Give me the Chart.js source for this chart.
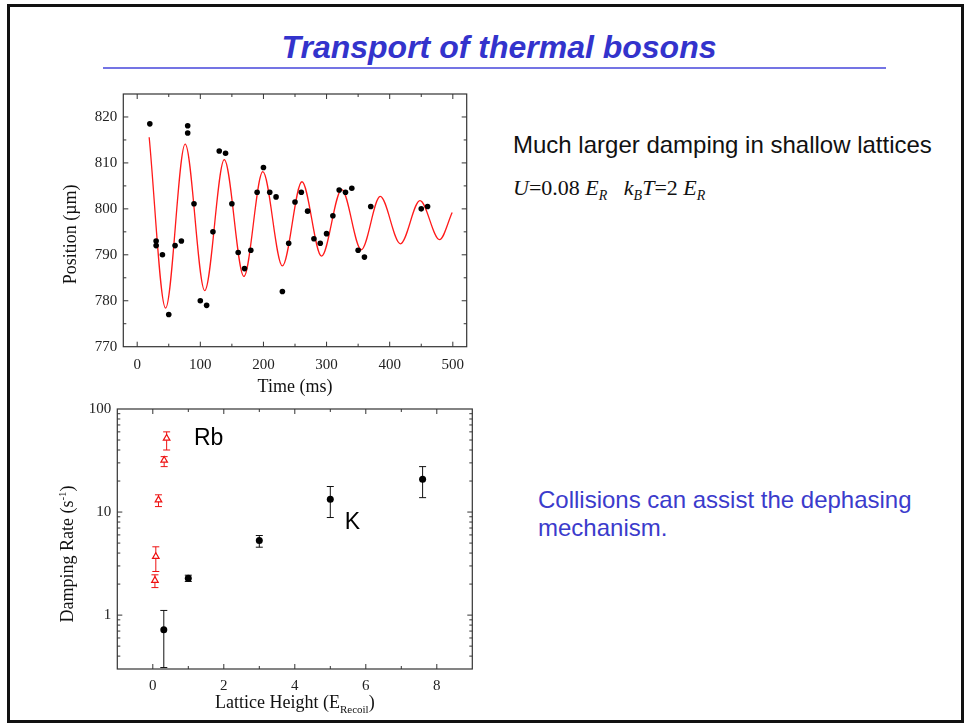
<!DOCTYPE html>
<html>
<head>
<meta charset="utf-8">
<script src="https://cdn.jsdelivr.net/npm/chart.js@4.4.1/dist/chart.umd.min.js"></script>
<style>
  html, body { margin: 0; padding: 0; background: #fff; }
  body { width: 967px; height: 724px; position: relative; overflow: hidden; }
  .frame { position: absolute; left: 7px; top: 4px; width: 957px; height: 719px; border: 3px solid #111; box-sizing: border-box; }
  .title { position: absolute; left: 99px; top: 29px; width: 800px; text-align: center; line-height: 1;
           font: italic bold 32px "Liberation Sans", Arial, sans-serif; color: #3333cc; }
  .rule { position: absolute; left: 103px; top: 67px; width: 783px; height: 2px; background: #7474e4; }
  .note { position: absolute; left: 513px; top: 131px; line-height: 1; white-space: nowrap;
          font: 24px "Liberation Sans", Arial, sans-serif; color: #111; }
  .params { position: absolute; left: 513px; top: 175px; line-height: 1; white-space: nowrap;
            font: 22px "Liberation Serif", "Times New Roman", serif; color: #111; }
  .params sub { font-size: 14px; vertical-align: -5px; line-height: 0; font-style: italic; }
  .remark { position: absolute; left: 538px; top: 486px; width: 400px; line-height: 27px;
            font: 24px "Liberation Sans", Arial, sans-serif; color: #3b3bcc; }
  canvas { position: absolute; }
  #oscillation { left: 50px; top: 85px; }
  #damping { left: 50px; top: 400px; }
</style>
</head>
<body>
<div class="frame"></div>
<div class="title">Transport of thermal bosons</div>
<div class="rule"></div>
<div class="note">Much larger damping in shallow lattices</div>
<div class="params"><i>U</i>=0.08 <i>E<sub>R</sub></i>&nbsp;&nbsp; <i>k<sub>B</sub>T</i>=2 <i>E<sub>R</sub></i></div>
<div class="remark">Collisions can assist the dephasing mechanism.</div>
<canvas id="oscillation" width="430" height="315"></canvas>
<canvas id="damping" width="430" height="318"></canvas>
<script>
// centre-of-mass position of the cloud after the lattice kick
const timeMs = [20, 30, 30, 40, 50, 60, 70, 80, 80, 90, 100, 110, 120, 130, 140, 150, 160, 170, 180, 190,
                200, 210, 220, 230, 240, 250, 260, 270, 280, 290, 300, 310, 320, 330, 340, 350, 360, 370, 450, 460];
const positionUm = [818.5, 793, 792, 790, 777, 792, 793, 818.1, 816.5, 801.1, 780, 779, 795, 812.6, 812.1, 801.1, 790.5, 787, 791, 803.6,
                    809, 803.6, 802.6, 782, 792.5, 801.5, 803.6, 799.5, 793.5, 792.5, 794.6, 798.5, 804.1, 803.6, 804.5, 791, 789.5, 800.5, 800, 800.5];

// damped sine fit, taken at its turning points
const fitTimeMs = [19, 45, 76, 107, 138, 169, 199, 230, 261, 292, 324, 355, 385, 417, 448, 479, 499];
const fitPositionUm = [815.6, 778.4, 814.1, 782.2, 810.7, 785.3, 808.1, 787.6, 805.9, 789.7, 804.2, 791.1, 802.7, 792.4, 801.8, 793.3, 799.2];

const timeTicks = [0, 100, 200, 300, 400, 500];
const positionTicks = [770, 780, 790, 800, 810, 820];

// damping rate against lattice depth, Rb and K
const rbHeight = [0.39, 0.32, 0.16, 0.085, 0.06];
const rbRate = [52, 31.8, 13.1, 3.7, 2.17];
const rbRateHigh = [60, 34.5, 14.7, 4.6, 2.46];
const rbRateLow = [40, 27.6, 11.3, 2.65, 1.85];

const kHeight = [0.31, 1.0, 3.0, 5.0, 7.6];
const kRate = [0.72, 2.28, 5.3, 13.3, 20.8];
const kRateHigh = [1.11, 2.44, 5.92, 17.7, 27.6];
const kRateLow = [0.31, 2.12, 4.56, 8.85, 13.8];

const heightTicks = [0, 2, 4, 6, 8];
const rateTicks = [1, 10, 100];

const speciesNames = ['Rb', 'K'];
const speciesNameX = [1.16, 5.41];
const speciesNameY = [45, 6.9];

const toPoints = (xs, ys) => xs.map((x, i) => ({ x: x, y: ys[i] }));

const SERIF = '"Liberation Serif", "Times New Roman", serif';
const INK = '#222';

Chart.defaults.font.family = SERIF;
Chart.defaults.color = INK;

// text with optional sub/superscript parts, centred on (cx, cy)
function drawRich(ctx, parts, cx, cy, angle, size) {
    ctx.save();
    ctx.translate(cx, cy);
    ctx.rotate(angle);
    ctx.textBaseline = 'alphabetic';
    ctx.textAlign = 'left';
    const fontFor = p => ((p.sub || p.sup) ? Math.round(size * 0.6) : size) + 'px ' + SERIF;
    let total = 0;
    parts.forEach(p => { ctx.font = fontFor(p); total += ctx.measureText(p.text).width; });
    let x = -total / 2;
    parts.forEach(p => {
        ctx.font = fontFor(p);
        const dy = p.sub ? size * 0.28 : p.sup ? -size * 0.4 : 0;
        ctx.fillText(p.text, x, dy);
        x += ctx.measureText(p.text).width;
    });
    ctx.restore();
}

// box around the plot with inward ticks on all four sides
const frameTicks = {
    id: 'frameTicks',
    afterDraw(chart, args, opts) {
        const { ctx, chartArea: a, scales: { x, y } } = chart;
        ctx.save();
        ctx.strokeStyle = opts.color;
        ctx.lineWidth = 1.2;
        ctx.strokeRect(a.left, a.top, a.right - a.left, a.bottom - a.top);
        ctx.lineWidth = 1;
        ctx.beginPath();
        const xMark = (v, len) => {
            const px = x.getPixelForValue(v);
            if (px < a.left + 1 || px > a.right - 1) return;
            ctx.moveTo(px, a.bottom); ctx.lineTo(px, a.bottom - len);
            ctx.moveTo(px, a.top); ctx.lineTo(px, a.top + len);
        };
        const yMark = (v, len) => {
            const py = y.getPixelForValue(v);
            if (py < a.top + 1 || py > a.bottom - 1) return;
            ctx.moveTo(a.left, py); ctx.lineTo(a.left + len, py);
            ctx.moveTo(a.right, py); ctx.lineTo(a.right - len, py);
        };
        opts.xMajor.forEach(v => xMark(v, 5));
        opts.xMinor.forEach(v => xMark(v, 3));
        opts.yMajor.forEach(v => yMark(v, 5));
        opts.yMinor.forEach(v => yMark(v, 3));
        ctx.stroke();
        ctx.restore();
    }
};

// vertical error bars with caps, drawn under the markers
const errorBars = {
    id: 'errorBars',
    beforeDatasetsDraw(chart) {
        const { ctx, scales: { x, y } } = chart;
        chart.data.datasets.forEach(ds => {
            if (!ds.errHigh) return;
            ctx.save();
            ctx.strokeStyle = ds.borderColor;
            ctx.lineWidth = 1;
            ctx.beginPath();
            ds.data.forEach((p, j) => {
                const px = x.getPixelForValue(p.x);
                const top = y.getPixelForValue(ds.errHigh[j]);
                const bot = y.getPixelForValue(ds.errLow[j]);
                ctx.moveTo(px, top); ctx.lineTo(px, bot);
                ctx.moveTo(px - 3.5, top); ctx.lineTo(px + 3.5, top);
                ctx.moveTo(px - 3.5, bot); ctx.lineTo(px + 3.5, bot);
            });
            ctx.stroke();
            ctx.restore();
        });
    }
};

const axisTitles = {
    id: 'axisTitles',
    afterDraw(chart, args, opts) {
        const { ctx, chartArea: a } = chart;
        ctx.save();
        ctx.fillStyle = '#111';
        drawRich(ctx, opts.x, (a.left + a.right) / 2, a.bottom + opts.xGap, 0, opts.size);
        drawRich(ctx, opts.y, a.left - opts.yGap, (a.top + a.bottom) / 2 + opts.yShift, -Math.PI / 2, opts.size);
        ctx.restore();
    }
};

const seriesNames = {
    id: 'seriesNames',
    afterDraw(chart, args, opts) {
        if (!opts.names) return;
        const { ctx, scales: { x, y } } = chart;
        ctx.save();
        ctx.fillStyle = '#000';
        ctx.font = '23px "Liberation Sans", Arial, sans-serif';
        ctx.textBaseline = 'alphabetic';
        opts.names.forEach((name, i) => {
            ctx.fillText(name, x.getPixelForValue(opts.xs[i]), y.getPixelForValue(opts.ys[i]));
        });
        ctx.restore();
    }
};

const midpoints = ticks => ticks.slice(1).map((v, i) => (v + ticks[i]) / 2);

// fixed-size axis; label overflow padding is dropped so layout.padding alone places the plot box
function axis(extra, ticksList, size, labelPad, filter) {
    return Object.assign({
        grid: { display: false, drawTicks: false },
        border: { display: false },
        afterBuildTicks: s => { s.ticks = ticksList.map(value => ({ value })); },
        ticks: {
            autoSkip: false,
            maxRotation: 0,
            padding: labelPad,
            font: { size: 15 },
            color: INK,
            callback: v => (filter ? filter(v) : String(v))
        }
    }, extra, {
        afterFit: s => {
            if (s.isHorizontal()) s.height = size; else s.width = size;
            s.paddingTop = 0; s.paddingBottom = 0; s.paddingLeft = 0; s.paddingRight = 0;
        }
    });
}

new Chart(document.getElementById('oscillation'), {
    type: 'scatter',
    data: {
        datasets: [
            {
                data: toPoints(fitTimeMs, fitPositionUm),
                showLine: true,
                cubicInterpolationMode: 'monotone',
                borderColor: '#ff1a1a',
                borderWidth: 1.3,
                pointRadius: 0,
                order: 2
            },
            {
                data: toPoints(timeMs, positionUm),
                showLine: false,
                pointRadius: 2.8,
                pointBackgroundColor: '#000',
                pointBorderColor: '#000',
                pointBorderWidth: 0,
                order: 1
            }
        ]
    },
    options: {
        responsive: false,
        animation: false,
        layout: { padding: { left: 0, top: 9, right: 13.3, bottom: 0 } },
        plugins: {
            legend: { display: false },
            tooltip: { enabled: false },
            frameTicks: { color: '#333', xMajor: timeTicks, xMinor: midpoints(timeTicks), yMajor: positionTicks, yMinor: midpoints(positionTicks).concat([825]) },
            axisTitles: {
                size: 18, xGap: 45, yGap: 47, yShift: 14,
                x: [{ text: 'Time (ms)' }],
                y: [{ text: 'Position (\u00b5m)' }]
            }
        },
        scales: {
            x: axis({ type: 'linear', min: -22, max: 522 }, timeTicks, 53.3, 9),
            y: axis({ type: 'linear', min: 770, max: 825 }, positionTicks, 73.3, 6)
        }
    },
    plugins: [frameTicks, axisTitles]
});

const decadeMinors = [];
[0.1, 1, 10].forEach(d => { for (let k = 2; k <= 9; k++) decadeMinors.push(k * d); });

new Chart(document.getElementById('damping'), {
    type: 'scatter',
    data: {
        datasets: [
            {
                data: toPoints(rbHeight, rbRate),
                errHigh: rbRateHigh,
                errLow: rbRateLow,
                pointStyle: 'triangle',
                pointRadius: 3.8,
                borderColor: '#ee1111',
                pointBorderColor: '#ee1111',
                pointBackgroundColor: '#fff',
                pointBorderWidth: 1.2
            },
            {
                data: toPoints(kHeight, kRate),
                errHigh: kRateHigh,
                errLow: kRateLow,
                pointRadius: 3.5,
                borderColor: '#111',
                pointBorderColor: '#000',
                pointBackgroundColor: '#000',
                pointBorderWidth: 0
            }
        ]
    },
    options: {
        responsive: false,
        animation: false,
        layout: { padding: { left: 0, top: 9, right: 7.7, bottom: 0 } },
        plugins: {
            legend: { display: false },
            tooltip: { enabled: false },
            frameTicks: { color: '#333', xMajor: heightTicks, xMinor: midpoints(heightTicks), yMajor: rateTicks, yMinor: decadeMinors },
            axisTitles: {
                size: 18, xGap: 39, yGap: 44, yShift: 15,
                x: [{ text: 'Lattice Height (E' }, { text: 'Recoil', sub: true }, { text: ')' }],
                y: [{ text: 'Damping Rate (s' }, { text: '-1', sup: true }, { text: ')' }]
            },
            seriesNames: { names: speciesNames, xs: speciesNameX, ys: speciesNameY }
        },
        scales: {
            x: axis({ type: 'linear', min: -1, max: 9 }, heightTicks, 49, 8),
            y: axis({ type: 'logarithmic', min: 0.3, max: 100 }, rateTicks, 67.3, 6, v => String(v))
        }
    },
    plugins: [errorBars, frameTicks, axisTitles, seriesNames]
});
</script>
</body>
</html>
